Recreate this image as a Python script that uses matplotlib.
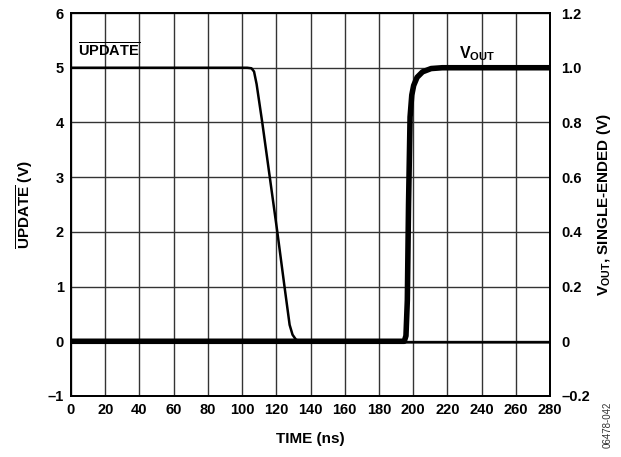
import matplotlib
matplotlib.use("Agg")
import matplotlib.pyplot as plt

plt.rcParams['font.family'] = ['Liberation Sans', 'DejaVu Sans']
plt.rcParams['font.weight'] = 'bold'
plt.rcParams['mathtext.fontset'] = 'custom'
plt.rcParams['mathtext.rm'] = 'Liberation Sans:bold'
plt.rcParams['mathtext.bf'] = 'Liberation Sans:bold'
plt.rcParams['mathtext.it'] = 'Liberation Sans:bold'

# UPDATE waveform (left axis, V)
t_update = [0, 103, 105.5, 107, 108.5, 111.8, 120.6, 124.8, 127.8, 129.5, 131.5, 134.5, 140, 280]
v_update = [5.0, 5.0, 4.99, 4.93, 4.7, 4.0, 2.0, 1.0, 0.3, 0.12, 0.03, -0.01, -0.02, -0.02]

# VOUT waveform (right axis, V)
t_vout = [0, 194.8, 195.8, 196.6, 197.3, 198.2, 199.2, 200.3, 202.3, 205.5, 210.5, 217, 280]
v_vout = [0.0, 0.0, 0.02, 0.15, 0.5, 0.82, 0.9, 0.935, 0.965, 0.985, 0.997, 1.0, 1.0]

x_ticks = list(range(0, 281, 20))
left_ticks = [-1, 0, 1, 2, 3, 4, 5, 6]
left_labels = ['\u20131', '0', '1', '2', '3', '4', '5', '6']
right_ticks = [-0.2, 0, 0.2, 0.4, 0.6, 0.8, 1.0, 1.2]
right_labels = ['\u20130.2', '0', '0.2', '0.4', '0.6', '0.8', '1.0', '1.2']

fig = plt.figure(figsize=(6.21, 4.57), dpi=100)
ax = fig.add_axes([0.1143, 0.1335, 0.7714, 0.838])
ax2 = ax.twinx()

ax.set_xlim(0, 280)
ax.set_ylim(-1, 6)
ax2.set_ylim(-0.2, 1.2)

ax.set_xticks(x_ticks)
ax.set_xticklabels([str(v) for v in x_ticks], fontsize=10.5, fontweight='bold')
ax.set_yticks(left_ticks)
ax.set_yticklabels(left_labels, fontsize=10.5, fontweight='bold')
ax2.set_yticks(right_ticks)
ax2.set_yticklabels(right_labels, fontsize=10.5, fontweight='bold')

ax.tick_params(length=0, pad=5)
ax2.tick_params(length=0, pad=8)
ax.grid(True, color='#333333', linewidth=1.0)
ax.set_axisbelow(True)

for a in (ax, ax2):
    for s in a.spines.values():
        s.set_linewidth(1.3)
        s.set_color('black')

ax2.plot(t_vout, v_vout, color='black', linewidth=4.0, solid_capstyle='butt', zorder=3)
ax.plot(t_update, v_update, color='black', linewidth=1.8, zorder=4)

ax.set_xlabel('TIME (ns)', fontsize=11, fontweight='bold', labelpad=11)
ax.set_ylabel(r'$\overline{\mathrm{UPDATE}}$ (V)', fontsize=11, fontweight='bold', labelpad=9)
ax2.set_ylabel(r'$\mathrm{V}_{\mathrm{OUT}}$, SINGLE-ENDED (V)', fontsize=11,
               fontweight='bold', labelpad=4)

ax.text(4, 5.15, r'$\overline{\mathrm{UPDATE}}$', fontsize=10.5, fontweight='bold',
        ha='left', va='bottom')
ax.text(227, 5.08, r'$\mathrm{V}_{\mathrm{OUT}}$', fontsize=11.5, fontweight='bold',
        ha='left', va='bottom')

fig.text(0.979, 0.02, '06478-042', rotation=90, fontsize=7, color='#333333',
         fontweight='normal', ha='center', va='bottom')

fig.savefig('out.png', dpi=100)
